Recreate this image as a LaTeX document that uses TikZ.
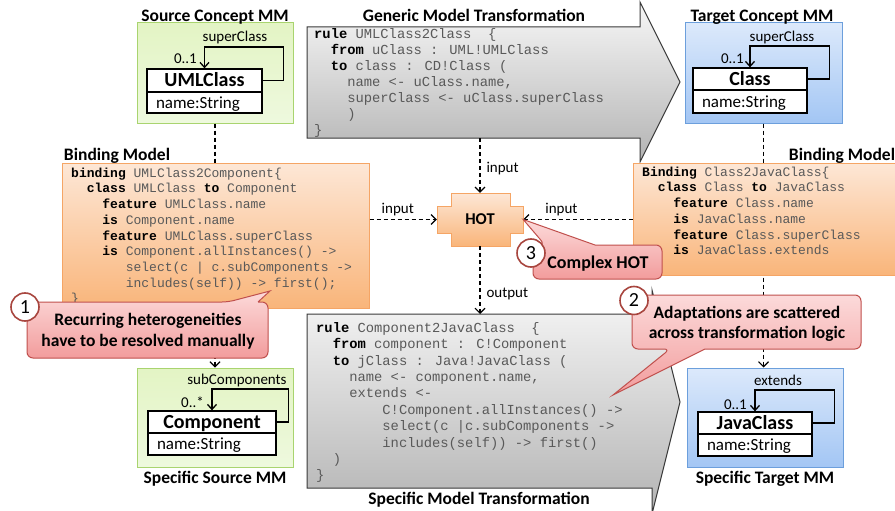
\documentclass[tikz,border=0pt]{standalone}
\usepackage{fontspec}
\setmainfont{Carlito}
\newfontfamily\codefont{Liberation Mono}
\usetikzlibrary{arrows.meta}
\definecolor{codegray}{HTML}{595959}
\definecolor{grnT}{HTML}{E3F4C4}
\definecolor{grnB}{HTML}{EEF9DE}
\definecolor{grnD}{HTML}{A9D46F}
\definecolor{bluT}{HTML}{DCE9FB}
\definecolor{bluB}{HTML}{A3C6F4}
\definecolor{bluD}{HTML}{6C9FDC}
\definecolor{orgT}{HTML}{FDE7D6}
\definecolor{orgB}{HTML}{F9B57A}
\definecolor{orgD}{HTML}{F5A565}
\definecolor{gryT}{HTML}{F7F7F7}
\definecolor{gryB}{HTML}{B3B3B3}
\definecolor{gryD}{HTML}{3A3A3A}
\definecolor{pnkT}{HTML}{FCDADA}
\definecolor{pnkB}{HTML}{F29C9C}
\definecolor{pnkD}{HTML}{C0504D}
\definecolor{cirD}{HTML}{A8463F}
\newcommand\kw[1]{{\bfseries\color{black}#1}}
\newcommand\cind[1]{\hspace*{#1em}}
\newcommand\fsz[2]{\fontsize{#1}{#2}\selectfont}
\tikzset{
 title/.style={font=\fsz{17.5}{20}\bfseries, inner sep=0pt, anchor=base},
 lbl/.style={font=\fsz{15}{18}, inner sep=0pt},
 mmgreen/.style={draw=grnD, line width=1pt, top color=grnT, bottom color=grnB, inner sep=0pt},
 mmblue/.style={draw=bluD, line width=1pt, top color=bluT, bottom color=bluB, inner sep=0pt},
 bindbox/.style={draw=orgD, line width=1pt, top color=orgT, bottom color=orgB, inner sep=0pt},
 chead/.style={draw=black, line width=1.3pt, fill=white, font=\fsz{20}{22}\bfseries, inner sep=0pt, text height=13pt, text depth=0pt},
 cattr/.style={draw=black, line width=1.3pt, fill=white, font=\fsz{17}{19}, align=left, inner xsep=9pt, inner ysep=0pt, text height=12pt, text depth=1pt},
 umlarr/.style={line width=1.3pt, -{Straight Barb[length=5pt,width=9pt]}},
 dashline/.style={line width=1.1pt, dash pattern=on 4pt off 3pt, -{Straight Barb[length=5pt,width=10pt]}},
 codeblk/.style={anchor=north west, inner sep=0pt, align=left, text=codegray},
 trafo/.style={draw=gryD, line width=1pt, top color=gryT, bottom color=gryB},
 hotshape/.style={draw=orgD, line width=1pt, top color=orgT, bottom color=orgB},
 callout/.style={draw=pnkD, line width=1pt, top color=pnkT, bottom color=pnkB},
 numc/.style={circle, draw=cirD, line width=1.6pt, fill=white, minimum size=28pt, inner sep=0pt, font=\fsz{20}{22}},
 calltext/.style={font=\fsz{17.5}{21}\bfseries, align=center, inner sep=0pt, anchor=north},
}
\begin{document}
\begin{tikzpicture}[x=1pt,y=-1pt]
\useasboundingbox (0,0) rectangle (895,511);
\clip (0,0) rectangle (895,511);
\fill[white] (0,0) rectangle (895,511);

% metamodel boxes
\node[mmgreen, minimum width=156pt, minimum height=100pt] (srcMM) at (215,73) {};
\node[mmblue, minimum width=157pt, minimum height=100pt] (tgtMM) at (763.5,73) {};
\node[mmgreen, minimum width=156pt, minimum height=99pt] (specSrc) at (215,417.5) {};
\node[mmblue, minimum width=156pt, minimum height=99pt] (specTgt) at (765,417.5) {};

% vertical dashed dependencies (behind binding boxes)
\draw[dashline] (srcMM.south) -- (specSrc.north);
\draw[dashline] (tgtMM.south) -- (tgtMM.south |- specTgt.north);

% classes
\node[chead, minimum width=115pt, minimum height=23pt] (uh) at (204.5,80.5) {UMLClass};
\node[cattr, text width=97pt, minimum height=21pt] (ua) at (204.5,102.5) {name:String};
\draw[umlarr] (uh.east) -| ++(21,-33.5) -| (uh.north);
\node[lbl, anchor=base] (ulbl) at (235,42) {superClass};
\node[lbl, anchor=base east] (umul) at (197,64) {0..1};

\node[chead, minimum width=114pt, minimum height=22pt] (ch) at (750,79) {Class};
\node[cattr, text width=96pt, minimum height=23pt] (ca) at (750,101.5) {name:String};
\draw[umlarr] (ch.east) -| ++(22,-33) -| (ch.north);
\node[lbl, anchor=base] (clbl) at (782,42) {superClass};
\node[lbl, anchor=base east] (cmul) at (744,63.5) {0..1};

\node[chead, minimum width=128pt, minimum height=22pt] (comph) at (212,422) {Component};
\node[cattr, text width=110pt, minimum height=22pt] (compa) at (212,444) {name:String};
\draw[umlarr] (comph.east) -| ++(12,-33) -| (comph.north);
\node[lbl, anchor=base] (complbl) at (237,384) {subComponents};
\node[lbl, anchor=base east] (compmul) at (204,407) {0..*};

\node[chead, minimum width=114pt, minimum height=22pt] (jh) at (755,423) {JavaClass};
\node[cattr, text width=96pt, minimum height=22pt] (ja) at (755,445) {name:String};
\draw[umlarr] (jh.east) -| ++(22,-33) -| (jh.north);
\node[lbl, anchor=base] (jlbl) at (778,385) {extends};
\node[lbl, anchor=base east] (jmul) at (747,409) {0..1};

% transformations
\path[trafo] (307,27) -- (640,27) -- (640,2) -- (680,82) -- (640,162) -- (640,138) -- (307,138) -- cycle;
\coordinate (genbot) at (480,138);
\node[codeblk, font=\codefont\fsz{13.8}{16}] (gencode) at (314,28) {\rule{0pt}{8.5pt}\kw{rule} UMLClass2Class~~\{\\
\cind{1.2}\kw{from} uClass : UML!UMLClass\\
\cind{1.2}\kw{to} class : CD!Class (\\
\cind{2.4}name <- uClass.name,\\
\cind{2.4}superClass <- uClass.superClass\\
\cind{2.4})\\
\}};

\path[trafo] (307,314) -- (652,314) -- (652,290) -- (680,402) -- (652,514) -- (652,488) -- (307,488) -- cycle;
\coordinate (spectop) at (480,314);
\node[codeblk, font=\codefont\fsz{13.8}{16.4}] (scode) at (316,321) {\rule{0pt}{11pt}\kw{rule} Component2JavaClass~~\{\\
\cind{1.2}\kw{from} component : C!Component\\
\cind{1.2}\kw{to} jClass : Java!JavaClass (\\
\cind{2.4}name <- component.name,\\
\cind{2.4}extends <-\\
\cind{4.8}C!Component.allInstances() ->\\
\cind{4.8}select(c |c.subComponents ->\\
\cind{4.8}includes(self)) -> first()\\
\cind{1.2})\\
\}};

% binding models
\node[bindbox, minimum width=307pt, minimum height=145pt] (lbind) at (215.5,235.5) {};
\node[codeblk, font=\codefont\fsz{13}{15.7}] (lcode) at (71,166.5) {\rule{0pt}{10.5pt}\kw{binding} UMLClass2Component\{\\
\cind{1.2}\kw{class} UMLClass \kw{to} Component\\
\cind{2.4}\kw{feature} UMLClass.name\\
\cind{2.4}\kw{is} Component.name\\
\cind{2.4}\kw{feature} UMLClass.superClass\\
\cind{2.4}\kw{is} Component.allInstances() ->\\
\cind{4.2}select(c | c.subComponents ->\\
\cind{4.2}includes(self)) -> first();\\
\}};
\coordinate (c1tip) at (270,291);

\node[bindbox, minimum width=277pt, minimum height=112pt] (rbind) at (771.5,219) {};
\node[codeblk, font=\codefont\fsz{13}{15.7}] (rcode) at (642,165.5) {\rule{0pt}{10.5pt}\kw{Binding} Class2JavaClass\{\\
\cind{1.2}\kw{class} Class \kw{to} JavaClass\\
\cind{2.4}\kw{feature} Class.name\\
\cind{2.4}\kw{is} JavaClass.name\\
\cind{2.4}\kw{feature} Class.superClass\\
\cind{2.4}\kw{is} JavaClass.extends};
\coordinate (c2tip) at (613,395);

% HOT
\path[hotshape] (451,193) -- (510,193) -- (510,206) -- (523,206) -- (523,233) -- (510,233) -- (510,246) -- (451,246) -- (451,233) -- (437,233) -- (437,206) -- (451,206) -- cycle;
\node[minimum width=86pt, minimum height=53pt, inner sep=0pt, font=\fsz{16.5}{18}\bfseries] (hot) at (480,219.5) {HOT};

% HOT connectors
\draw[dashline] (genbot) -- (hot.north) node[lbl, pos=0.55, anchor=west, xshift=6pt] (inlbl1) {input};
\draw[dashline] (lbind.east |- hot.west) -- (hot.west) node[lbl, pos=0.42, anchor=south, yshift=3pt] (inlbl2) {input};
\draw[dashline] (rbind.west |- hot.east) -- (hot.east) node[lbl, pos=0.65, anchor=south, yshift=3pt] (inlbl3) {input};
\draw[dashline] (hot.south) -- (spectop) node[lbl, pos=0.7, anchor=west, xshift=6pt] (outlbl) {output};

% titles
\node[title] (t1) at (215,22) {Source Concept MM};
\node[title] (t2) at (474,21.5) {Generic Model Transformation};
\node[title] (t3) at (762,22) {Target Concept MM};
\node[title] (t4) at (117,160) {Binding Model};
\node[title] (t5) at (842,160) {Binding Model};
\node[title] (t6) at (215,483) {Specific Source MM};
\node[title] (t7) at (479,504) {Specific Model Transformation};
\node[title] (t8) at (765,483) {Specific Target MM};

% callouts
\path[callout] (595,245) [rounded corners=6pt] -- (662,245) -- (662,279) -- (533,279) -- (533,245) -- (545,245) [sharp corners] -- (hot.east) -- (595,245);
\node[font=\fsz{18}{20}\bfseries, inner sep=0pt, anchor=base] (cx3) at (598,268) {Complex HOT};
\node[numc] (n3) at (531,253) {3};

\path[callout] (258,302) [rounded corners=6pt] -- (268,302) -- (268,358) -- (27,358) -- (27,302) -- (228,302) [sharp corners] -- (c1tip) -- (258,302);
\node[calltext] (cx1) at (148,313) {\rule{0pt}{12pt}Recurring heterogeneities\\have to be resolved manually};
\node[numc] (n1) at (25,307) {1};

\path[callout] (705,349) [rounded corners=6pt] -- (861,349) -- (861,295) -- (632,295) -- (632,349) -- (670,349) [sharp corners] -- (c2tip) -- (705,349);
\node[calltext, font=\fsz{17.5}{20}\bfseries] (cx2) at (747,306) {\rule{0pt}{12pt}Adaptations are scattered\\across transformation logic};
\node[numc] (n2) at (634,300.5) {2};
\end{tikzpicture}
\end{document}
